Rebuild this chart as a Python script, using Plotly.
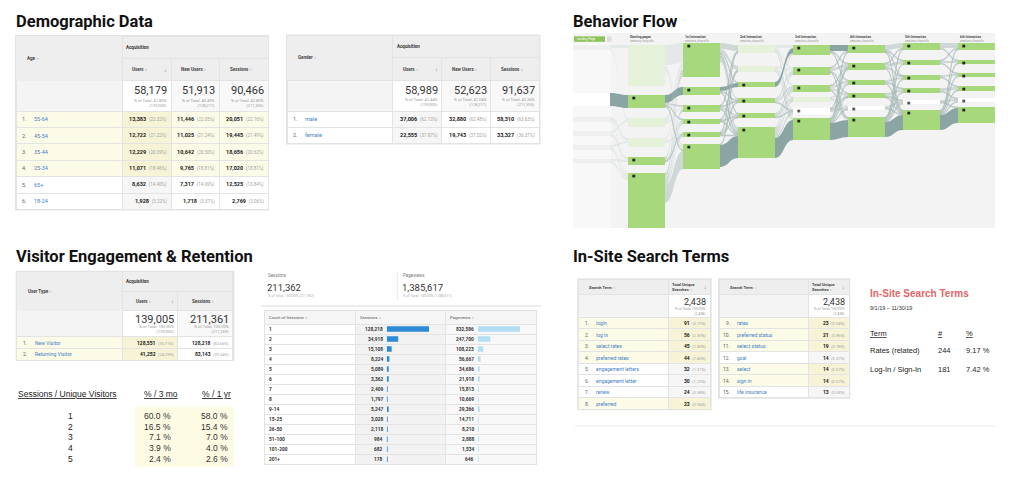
import plotly.graph_objects as go

W, H = 1024, 488
GA_FONT = 'Roboto'
SHEET_FONT = 'Liberation Sans'

# ---------------- data ----------------
age_groups = ['55-64', '45-54', '35-44', '25-34', '65+', '18-24']
age_users = [13383, 12722, 12229, 11071, 8632, 1928]
age_users_pct = [22.32, 21.22, 20.39, 18.46, 14.40, 3.22]
age_new_users = [11446, 11025, 10642, 9765, 7317, 1718]
age_new_users_pct = [22.05, 21.24, 20.50, 18.81, 14.09, 3.31]
age_sessions = [20051, 19445, 18656, 17020, 12525, 2769]
age_sessions_pct = [22.16, 21.49, 20.62, 18.81, 13.84, 3.06]
age_totals = [58179, 51913, 90466]
age_totals_pct = [41.85, 40.49, 42.80]
age_totals_of = [139005, 128217, 211355]

genders = ['male', 'female']
gender_users = [37006, 22555]
gender_users_pct = [62.13, 37.87]
gender_new_users = [32880, 19743]
gender_new_users_pct = [62.48, 37.52]
gender_sessions = [58310, 33327]
gender_sessions_pct = [63.63, 36.37]
gender_totals = [58989, 52623, 91637]
gender_totals_pct = [42.44, 41.04, 43.36]
gender_totals_of = [139005, 128217, 211355]

user_types = ['New Visitor', 'Returning Visitor']
user_type_users = [128551, 41252]
user_type_users_pct = [75.71, 24.29]
user_type_sessions = [128218, 83143]
user_type_sessions_pct = [60.66, 39.34]
user_type_totals = [139005, 211361]
user_type_totals_pct = [100.00, 100.00]
user_type_totals_of = [139005, 211359]

visits_per_visitor = [1, 2, 3, 4, 5]
share_3mo = [60.0, 16.5, 7.1, 3.9, 2.4]
share_1yr = [58.0, 15.4, 7.0, 4.0, 2.6]

session_counts = ['1', '2', '3', '4', '5', '6', '7', '8', '9-14', '15-25',
                  '26-50', '51-100', '101-200', '201+']
count_sessions = [128218, 34918, 15108, 8224, 5089, 3362, 2409, 1797, 5247,
                  3028, 2118, 984, 682, 178]
count_pageviews = [832586, 247700, 108223, 56667, 34686, 21918, 15813, 10669,
                   29366, 14711, 8210, 2888, 1534, 646]
sessions_total = 211362
pageviews_total = 1385617

search_terms_a = ['login', 'log in', 'select rates', 'preferred rates',
                  'engagement letters', 'engagement letter', 'renew', 'preferred']
search_counts_a = [91, 56, 45, 44, 32, 30, 24, 23]
search_pct_a = [3.73, 2.30, 1.85, 1.80, 1.31, 1.23, 0.98, 0.94]
search_terms_b = ['rates', 'preferred status', 'select status', 'gsal',
                  'select', 'sign in', 'life insurance']
search_counts_b = [23, 21, 19, 14, 14, 14, 13]
search_pct_b = [0.94, 0.86, 0.78, 0.57, 0.57, 0.57, 0.53]
search_total = 2438

summary_terms = ['Rates (related)', 'Log-In / Sign-In']
summary_counts = [244, 181]
summary_pct = [9.17, 7.42]

# behavior flow (session units, 1 unit ~ 1 px)
flow_titles = ['Starting pages', '1st Interaction', '2nd Interaction', '3rd Interaction',
               '4th Interaction', '5th Interaction', '6th Interaction']
links_s_p = [('s0', 'p0', 3), ('s0', 'p2', 2), ('s1', 'p1', 13), ('s2', 'p3', 3),
             ('s2', 'p5', 2), ('s3', 'p2', 2), ('s3', 'p4', 3), ('s4', 'p3', 2),
             ('s4', 'p5', 3), ('s5', 'p4', 2), ('s5', 'p5', 2)]
links_p_a = [('p0', 'a0', 20), ('p0', 'a5', 6), ('p1', 'a1', 8), ('p1', 'a2', 2),
             ('p1', 'a3', 1), ('p1', 'a5', 1), ('p2', 'a0', 4), ('p2', 'a2', 2),
             ('p3', 'a0', 3), ('p3', 'a4', 2), ('p4', 'a0', 2), ('p4', 'a3', 2),
             ('p4', 'a4', 1), ('p5', 'a0', 5), ('p5', 'a2', 3), ('p5', 'a3', 2),
             ('p5', 'a4', 2), ('p5', 'a5', 18)]
starting_exits = [15, 1, 3, 4, 3, 25]
links_a_b = [('a0', 'b0', 6), ('a0', 'b1', 4), ('a0', 'b2', 1), ('a0', 'b3', 2),
             ('a0', 'b4', 1), ('a0', 'b5', 5), ('a1', 'b2', 4), ('a1', 'b3', 1),
             ('a1', 'b5', 1), ('a2', 'b0', 1), ('a2', 'b3', 1), ('a2', 'b4', 2),
             ('a2', 'b5', 1), ('a3', 'b1', 1), ('a3', 'b4', 1), ('a3', 'b5', 1),
             ('a4', 'b0', 1), ('a4', 'b3', 1), ('a4', 'b4', 1), ('a4', 'b5', 1),
             ('a5', 'b1', 1), ('a5', 'b5', 22)]
links_b_c = [('b0', 'c0', 3), ('b0', 'c1', 2), ('b0', 'c2', 1), ('b0', 'c5', 1),
             ('b1', 'c1', 2), ('b1', 'c3', 1), ('b1', 'c4', 2), ('b1', 'c5', 1),
             ('b2', 'c0', 5), ('b3', 'c1', 2), ('b3', 'c2', 2), ('b3', 'c4', 1),
             ('b4', 'c2', 2), ('b4', 'c3', 2), ('b4', 'c4', 1), ('b5', 'c0', 2),
             ('b5', 'c1', 2), ('b5', 'c2', 2), ('b5', 'c3', 2), ('b5', 'c4', 3),
             ('b5', 'c5', 20)]
links_c_d = [('c0', 'd0', 6), ('c0', 'd1', 1), ('c0', 'd2', 1), ('c1', 'd0', 1),
             ('c1', 'd1', 3), ('c1', 'd3', 1), ('c1', 'd5', 1), ('c2', 'd1', 1),
             ('c2', 'd2', 2), ('c2', 'd3', 2), ('c2', 'd5', 1), ('c3', 'd2', 1),
             ('c3', 'd4', 1), ('c3', 'd5', 1), ('c4', 'd1', 1), ('c4', 'd3', 1),
             ('c4', 'd4', 2), ('c5', 'd0', 1), ('c5', 'd1', 1), ('c5', 'd2', 1),
             ('c5', 'd3', 1), ('c5', 'd4', 1), ('c5', 'd5', 17)]
links_d_e = [('d0', 'e0', 5), ('d0', 'e1', 1), ('d0', 'e2', 1), ('d0', 'e5', 1),
             ('d1', 'e0', 1), ('d1', 'e1', 3), ('d1', 'e2', 1), ('d1', 'e5', 1),
             ('d2', 'e2', 2), ('d2', 'e3', 1), ('d2', 'e5', 1), ('d3', 'e3', 3),
             ('d3', 'e4', 1), ('d3', 'e5', 1), ('d4', 'e4', 2), ('d4', 'e5', 1),
             ('d5', 'e0', 1), ('d5', 'e1', 1), ('d5', 'e2', 1), ('d5', 'e3', 1),
             ('d5', 'e4', 1), ('d5', 'e5', 15)]
links_e_f = [('e0', 'f0', 5), ('e0', 'f1', 1), ('e1', 'f0', 1), ('e1', 'f1', 2),
             ('e1', 'f2', 1), ('e2', 'f2', 2), ('e2', 'f3', 1), ('e3', 'f3', 3),
             ('e3', 'f4', 1), ('e4', 'f4', 2), ('e4', 'f5', 1), ('e5', 'f0', 1),
             ('e5', 'f1', 1), ('e5', 'f2', 1), ('e5', 'f3', 1), ('e5', 'f4', 1),
             ('e5', 'f5', 15)]

# ---------------- styles / layout ----------------
HDR = '#eeeeee'
TOT = '#f4f4f4'
TOT_LIGHT = '#f8f8f8'
WHITE = '#ffffff'
YEL = '#fcfbe7'
YEL_SORT = '#f6f3d6'
SORT = '#f6f6f6'
BORDER = '#e3e3e3'
BLUE = '#3f7fc6'
INFO = "\u00a0<span style='color:#d2d2d2'>●</span>"
NB = '\u00a0'

# flow geometry (px)
FLOW_X0, FLOW_Y0, FLOW_W, FLOW_H = 573, 43, 422, 185
NODE_W, COL_STEP = 37, 55
flow_cols = ['s', 'p', 'a', 'b', 'c', 'd', 'e', 'f']
node_tops = {
    's': [45, 93, 117, 131, 145, 159],
    'p': [45, 95, 118, 138, 157, 173],
    'a': [43, 87, 105, 119, 132, 144],
    'b': [45, 66, 82, 98, 113, 127],
    'c': [45, 67, 85, 97, 108, 118],
    'd': [45, 63, 80, 93, 106, 117],
    'e': [43, 60, 75, 88, 100, 110],
    'f': [43, 60, 73, 86, 98, 107],
}
node_kinds = {'s': 'qwqqqq', 'p': 'fgffgg', 'a': 'gggggg', 'b': 'ffgggg',
              'c': 'gggfwg', 'd': 'ggggwg', 'e': 'ggggwg', 'f': 'ggggwg'}
kind_fill = {'g': '#a8d87c', 'f': '#e6f1da', 'w': '#ffffff', 'q': '#efefef'}
dark_links = {('s1', 'p1'), ('p1', 'a1'), ('a1', 'b2'), ('b2', 'c0'), ('c0', 'd0'),
              ('a5', 'b5'), ('b5', 'c5'), ('c5', 'd5'), ('d5', 'e5'), ('e5', 'f5')}

fig = go.Figure()
shapes = []
annotations = []


def X(x):
    return x / W


def Y(y):
    return 1 - y / H


def rect(x0, y0, x1, y1, fill):
    shapes.append(dict(type='rect', xref='paper', yref='paper', x0=X(x0), x1=X(x1),
                       y0=Y(y1), y1=Y(y0), fillcolor=fill, line=dict(width=0), layer='below'))


def line(x0, y0, x1, y1, color, width=1):
    shapes.append(dict(type='line', xref='paper', yref='paper', x0=X(x0), x1=X(x1),
                       y0=Y(y0), y1=Y(y1), line=dict(color=color, width=width), layer='below'))


def label(x, y, text, size, color='#333333', anchor='left', family=GA_FONT):
    annotations.append(dict(x=X(x), y=Y(y), xref='paper', yref='paper', text=text,
                            showarrow=False, xanchor=anchor, yanchor='middle', align=anchor,
                            borderpad=0, font=dict(family=family, size=size, color=color)))


def grid(xs, y_top, head_h, head_fill, head_line_w=1, cell_h=20, cell_fill=WHITE, n_rows=0):
    widths = [b - a for a, b in zip(xs[:-1], xs[1:])]
    n = len(widths)
    bottom = y_top + head_h + n_rows * cell_h + 4
    fig.add_trace(go.Table(
        domain=dict(x=[X(xs[0]), X(xs[-1])], y=[max(0.0, Y(bottom)), Y(y_top)]),
        columnwidth=widths,
        header=dict(values=[''] * n, height=head_h, fill=dict(color=head_fill),
                    line=dict(color=BORDER, width=head_line_w)),
        cells=dict(values=[[''] * n_rows for _ in range(n)] if n_rows else [],
                   height=cell_h, fill=dict(color=cell_fill),
                   line=dict(color=BORDER, width=1)),
    ))


def ga_table(xs, y_top, acq_h, hdr_h, tot_h, row_h, dim_title, metric_titles,
             totals, totals_pct, totals_of, labels, metric_cols, highlight, yellow_cols,
             big_size, first_index=1, hdr_pad=9, body=5.5, small=4.5, hdr_size=4.5,
             small_tot=4):
    n = len(xs) - 1
    n_rows = len(labels)
    y_hdr = y_top + acq_h
    y_tot = y_hdr + hdr_h
    y_body = y_tot + tot_h
    bottom = y_body + row_h * n_rows
    rect(xs[0] - 1, y_top - 1, xs[-1] + 1, bottom + 1, BORDER)

    if acq_h:
        grid([xs[0], xs[1], xs[-1]], y_top, acq_h, [HDR, HDR], head_line_w=[0, 1])
        label(xs[1] + 3, y_top + acq_h / 2, '<b>Acquisition</b>', hdr_size)

    tot_fill = [[TOT]] + [[WHITE] if j == 1 else [TOT_LIGHT] for j in range(1, n)]
    grid(xs, y_hdr, hdr_h, [HDR] * n, head_line_w=[0 if acq_h else 1] + [1] * (n - 1),
         cell_h=tot_h, cell_fill=tot_fill, n_rows=1)

    fills = []
    for j in range(n):
        col = []
        for hl in highlight:
            if j == 1:
                col.append(YEL_SORT if hl else SORT)
            elif hl and j in yellow_cols:
                col.append(YEL)
            else:
                col.append(WHITE)
        fills.append(col)
    grid(xs, y_body, row_h, [c[0] for c in fills], cell_h=row_h,
         cell_fill=[c[1:] for c in fills], n_rows=n_rows - 1)

    # header texts
    label(xs[0] + 10, y_top + (acq_h + hdr_h) / 2, '<b>' + dim_title + '</b>' + INFO,
          hdr_size, '#444')
    for j, t in enumerate(metric_titles, start=1):
        label(xs[j] + hdr_pad, y_hdr + hdr_h / 2, '<b>' + t + '</b>' + INFO, hdr_size, '#444')
    label(xs[2] - 3, y_hdr + hdr_h / 2, '↓', 5.5, '#777', anchor='right')

    # totals row
    for j in range(1, n):
        xr = xs[j + 1] - 3.5
        label(xr, y_tot + tot_h * 0.32, f'{totals[j - 1]:,}', big_size, '#333', anchor='right')
        label(xr, y_tot + tot_h * 0.72,
              f'% of Total: {totals_pct[j - 1]:.2f}%<br>({totals_of[j - 1]:,})',
              small_tot, '#9a9a9a', anchor='right')

    # body rows
    for i, lab in enumerate(labels):
        yc = y_body + row_h * (i + 0.5)
        label(xs[0] + 11.5, yc, f'{first_index + i}.', body, '#666', anchor='right')
        label(xs[0] + 17, yc, lab, body, BLUE)
        for j, (vals, pcts) in enumerate(metric_cols, start=1):
            txt = (f'<b>{vals[i]:,}</b>{NB}{NB}'
                   f"<span style='font-size:{small}px;color:#a3a3a3'>({pcts[i]:.2f}%)</span>")
            label(xs[j + 1] - 3.5, yc, txt, body, '#222', anchor='right')


# ---------------- section titles ----------------
for x, y, t in [(15, 21, 'Demographic Data'), (572, 21, 'Behavior Flow'),
                (15, 256, 'Visitor Engagement &amp; Retention'), (572, 256, 'In-Site Search Terms')]:
    label(x, y, '<b>' + t + '</b>', 16.5, '#111111')

# ---------------- demographic tables ----------------
ga_table([16, 122, 171, 219.5, 268], 36, 22.3, 22.4, 30.3, 16.4, 'Age',
         ['Users', 'New Users', 'Sessions'], age_totals, age_totals_pct, age_totals_of,
         age_groups,
         [(age_users, age_users_pct), (age_new_users, age_new_users_pct),
          (age_sessions, age_sessions_pct)],
         [True, True, True, True, False, False], {0, 1, 2, 3}, big_size=11)

ga_table([287, 393, 442, 491, 539.5], 35.5, 22.3, 22.4, 30.8, 16.3, 'Gender',
         ['Users', 'New Users', 'Sessions'], gender_totals, gender_totals_pct,
         gender_totals_of, genders,
         [(gender_users, gender_users_pct), (gender_new_users, gender_new_users_pct),
          (gender_sessions, gender_sessions_pct)],
         [False, False], {0, 1, 2, 3}, big_size=11)

# ---------------- user type ----------------
ga_table([16.7, 122.3, 178.3, 233.3], 271.7, 20, 19, 26, 11.65, 'User Type',
         ['Users', 'Sessions'], user_type_totals, user_type_totals_pct, user_type_totals_of,
         user_types,
         [(user_type_users, user_type_users_pct), (user_type_sessions, user_type_sessions_pct)],
         [True, True], {0, 1}, big_size=11, hdr_pad=13, body=5, small=4)

# sessions / unique visitors
rect(135, 406.7, 234, 467.3, '#fdfbe3')
label(17, 394, '<u>Sessions / Unique Visitors</u>', 8.5, '#222', family=SHEET_FONT)
label(143, 394, '<u>% / 3 mo</u>', 8.5, '#222', family=SHEET_FONT)
label(232, 394, '<u>% / 1 yr</u>', 8.5, '#222', anchor='right', family=SHEET_FONT)
for i, v in enumerate(visits_per_visitor):
    yc = 415.7 + 10.85 * i
    label(70.7, yc, str(v), 8.5, '#222', anchor='center', family=SHEET_FONT)
    label(171.7, yc, f'{share_3mo[i]:.1f} %', 8.5, '#333', anchor='right', family=SHEET_FONT)
    label(229, yc, f'{share_1yr[i]:.1f} %', 8.5, '#333', anchor='right', family=SHEET_FONT)

# ---------------- count of sessions ----------------
label(266.7, 275, 'Sessions', 4.5, '#777')
label(266, 287.5, f'{sessions_total:,}', 9.5, '#333')
label(266.7, 296, f'% of Total: 100.00% ({sessions_total:,})', 3.5, '#aaaaaa')
label(401.7, 275, 'Pageviews', 4.5, '#777')
label(401, 287.5, f'{pageviews_total:,}', 9.5, '#333')
label(401.7, 296, f'% of Total: 100.00% ({pageviews_total:,})', 3.5, '#aaaaaa')
line(397.3, 271.5, 397.3, 300, '#e6e6e6')
line(261, 306, 541, 306, '#eeeeee', 2)

ct_xs = [264.3, 355.7, 445.7, 536.7]
CT_TOP, CT_HEAD, CT_ROW = 310, 14, 10.02
ct_body_top = CT_TOP + CT_HEAD
ct_bottom = ct_body_top + CT_ROW * len(session_counts)
rect(ct_xs[1], ct_body_top, ct_xs[2], ct_bottom, '#f2f2f2')
rect(ct_xs[2], ct_body_top, ct_xs[3], ct_bottom, '#f8f8f8')
grid(ct_xs, CT_TOP, CT_HEAD, ['#f5f5f5'] * 3, cell_h=CT_ROW,
     cell_fill=[WHITE, 'rgba(0,0,0,0)', 'rgba(0,0,0,0)'], n_rows=len(session_counts))
for j, t in enumerate(['Count of Sessions', 'Sessions', 'Pageviews']):
    label(ct_xs[j] + 3.4, CT_TOP + CT_HEAD / 2, t + INFO, 4.3, '#555')
for i, c in enumerate(session_counts):
    yc = ct_body_top + CT_ROW * (i + 0.5)
    label(267.5, yc, '<b>' + c + '</b>', 4.8, '#333')
    label(384.3, yc, f'<b>{count_sessions[i]:,}</b>', 4.8, '#333', anchor='right')
    label(475, yc, f'<b>{count_pageviews[i]:,}</b>', 4.8, '#333', anchor='right')

fig.add_trace(go.Bar(x=count_sessions, y=session_counts, orientation='h', width=0.55,
                     marker=dict(color='#2c8ad6', line=dict(width=0)),
                     xaxis='x', yaxis='y', hoverinfo='skip'))
fig.add_trace(go.Bar(x=count_pageviews, y=session_counts, orientation='h', width=0.55,
                     marker=dict(color='#b3ddf3', line=dict(width=0)),
                     xaxis='x2', yaxis='y2', hoverinfo='skip'))

# ---------------- search term tables ----------------
ga_table([578.3, 669, 710.7], 279.3, 0, 15.7, 22.3, 11.5, 'Search Term',
         ['Total Unique<br>Searches'], [search_total], [100.00], [search_total],
         search_terms_a, [(search_counts_a, search_pct_a)],
         [True, True, True, True, False, False, False, True], {0, 1}, big_size=9,
         hdr_pad=2, body=5, small=4, hdr_size=4, small_tot=3.5)
ga_table([719, 809, 849.3], 279.3, 0, 15.7, 22.3, 11.5, 'Search Term',
         ['Total Unique<br>Searches'], [search_total], [100.00], [search_total],
         search_terms_b, [(search_counts_b, search_pct_b)],
         [True, True, True, False, True, True, False], {0, 1}, big_size=9, first_index=9,
         hdr_pad=2, body=5, small=4, hdr_size=4, small_tot=3.5)

# summary panel
label(869, 293.3, '<b>In-Site Search Terms</b>', 10, '#e06666', family=SHEET_FONT)
label(869, 308.3, '9/1/19 – 11/30/19', 5.5, '#333', family=SHEET_FONT)
label(869, 333.3, '<u>Term</u>', 7.5, '#222', family=SHEET_FONT)
label(937.3, 333.3, '<u>#</u>', 7.5, '#222', family=SHEET_FONT)
label(965, 333.3, '<u>%</u>', 7.5, '#222', family=SHEET_FONT)
for i, t in enumerate(summary_terms):
    yc = 350.7 + 18.3 * i
    label(869, yc, t, 7.5, '#222', family=SHEET_FONT)
    label(937.3, yc, str(summary_counts[i]), 7.5, '#222', family=SHEET_FONT)
    label(965, yc, f'{summary_pct[i]:.2f} %', 7.5, '#222', family=SHEET_FONT)
line(575, 426, 995, 426, '#ebebeb')

# ---------------- behavior flow ----------------
rect(FLOW_X0, 33, FLOW_X0 + FLOW_W, FLOW_Y0 + FLOW_H, '#f3f3f3')
rect(FLOW_X0, FLOW_Y0, FLOW_X0 + NODE_W + 1, FLOW_Y0 + FLOW_H, '#f8f8f8')
rect(574, 36.3, 605, 41.8, '#8dc45a')
label(576, 39, 'Landing Page', 3, '#ffffff')
rect(607, 36.3, 611.5, 41.8, '#dddddd')
for k, t in enumerate(flow_titles):
    x_left = FLOW_X0 + COL_STEP * (k + 1) + 1
    label(x_left, 37, '<b>' + t + '</b>', 3.2, '#444')
    label(x_left, 40.6, 'sessions, drop-offs', 2.8, '#999')

flow_links = links_s_p + links_p_a + links_a_b + links_b_c + links_c_d + links_d_e + links_e_f
node_ids = [c + str(i) for c in flow_cols for i in range(6)]

# hidden helper chains running through every column up to the last one, so that
# the sankey scale stays at 1 unit = 1 px whatever column alignment is used
exit_chain = [f'x{k}' for k in range(2, 8)]
pad_chain = [f'z{k}' for k in range(0, 8)]
exit_links = [(f'p{i}', 'x2', v) for i, v in enumerate(starting_exits)]
exit_total = sum(starting_exits)
exit_links += [(a, b, exit_total) for a, b in zip(exit_chain[:-1], exit_chain[1:])]

inflow, outflow = {}, {}
for s, t, v in flow_links + exit_links:
    outflow[s] = outflow.get(s, 0) + v
    inflow[t] = inflow.get(t, 0) + v
node_size = {n: max(inflow.get(n, 0), outflow.get(n, 0)) for n in node_ids}
spacer = FLOW_H - sum(node_size['p' + str(i)] for i in range(6))
pad_links = [(a, b, spacer) for a, b in zip(pad_chain[:-1], pad_chain[1:])]

all_links = flow_links + exit_links + pad_links
all_nodes = node_ids + exit_chain + pad_chain
idx = {n: k for k, n in enumerate(all_nodes)}

node_x, node_y, node_fill = [], [], []
for n in all_nodes:
    if n in node_size:
        ci = flow_cols.index(n[0])
        top = node_tops[n[0]][int(n[1])]
        kind = node_kinds[n[0]][int(n[1])]
        node_x.append((NODE_W / 2 + COL_STEP * ci) / FLOW_W)
        node_y.append((top + node_size[n] / 2 - FLOW_Y0) / FLOW_H)
        node_fill.append(kind_fill[kind])
        # page icon drawn in the top-left corner of each highlighted node
        if kind in 'gw' and ci > 0:
            label(FLOW_X0 + COL_STEP * ci + 2.5, top + 2.6, '■', 3.6,
                  '#222222' if kind == 'g' else '#555555', family='DejaVu Sans')
    else:
        ci = int(n[1:])
        node_x.append((NODE_W / 2 + COL_STEP * ci) / FLOW_W)
        node_y.append(0.9)
        node_fill.append('rgba(0,0,0,0)')

link_colors = []
for s, t, v in all_links:
    if (s, t) in dark_links:
        link_colors.append('rgba(128,155,155,0.9)')
    elif s not in node_size or t not in node_size:
        link_colors.append('rgba(0,0,0,0)')
    elif node_kinds[s[0]][int(s[1])] in 'fq':
        link_colors.append('rgba(200,212,212,0.35)')
    else:
        link_colors.append('rgba(165,182,182,0.45)')

fig.add_trace(go.Sankey(
    arrangement='fixed',
    domain=dict(x=[X(FLOW_X0), X(FLOW_X0 + FLOW_W)], y=[Y(FLOW_Y0 + FLOW_H), Y(FLOW_Y0)]),
    node=dict(label=[''] * len(all_nodes), x=node_x, y=node_y, pad=0, thickness=NODE_W,
              color=node_fill, line=dict(width=0), hoverinfo='skip'),
    link=dict(source=[idx[s] for s, t, v in all_links], target=[idx[t] for s, t, v in all_links],
              value=[v for s, t, v in all_links], color=link_colors, hoverinfo='skip'),
    textfont=dict(size=1),
))

# ---------------- layout ----------------
bar_y = dict(domain=[Y(ct_bottom), Y(ct_body_top)], type='category',
             categoryorder='array', categoryarray=session_counts,
             range=[len(session_counts) - 0.5, -0.5], visible=False, fixedrange=True)
fig.update_layout(
    width=W, height=H, margin=dict(l=0, r=0, t=0, b=0),
    paper_bgcolor='white', plot_bgcolor='rgba(0,0,0,0)',
    showlegend=False, font=dict(family=GA_FONT),
    xaxis=dict(domain=[X(386.7), X(429)], range=[0, max(count_sessions)], visible=False,
               fixedrange=True),
    yaxis=dict(bar_y, anchor='x'),
    xaxis2=dict(domain=[X(477.7), X(520)], range=[0, max(count_pageviews)], visible=False,
                fixedrange=True, anchor='y2'),
    yaxis2=dict(bar_y, anchor='x2'),
    shapes=shapes, annotations=annotations,
)

fig.write_html('out.html', config={'displayModeBar': False},
               post_script="document.body.style.margin='0';")
